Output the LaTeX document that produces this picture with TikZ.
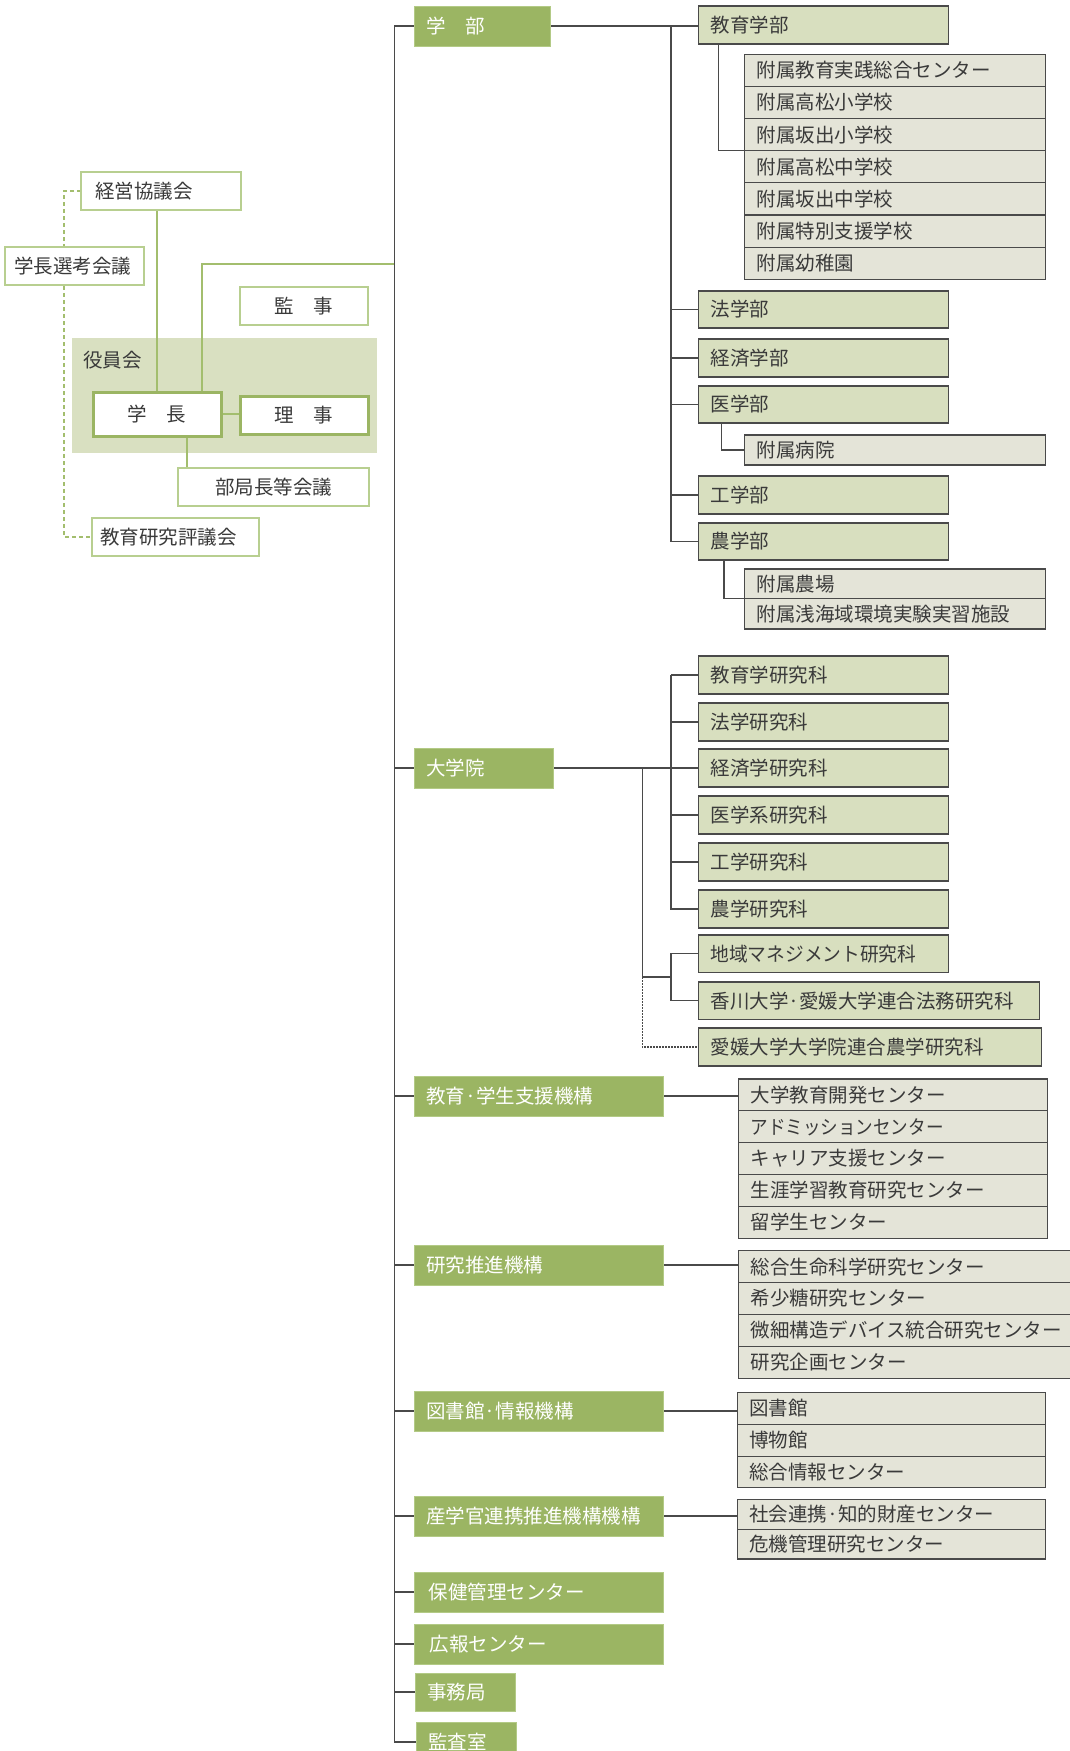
\documentclass[tikz,border=0pt]{standalone}
\usepackage{fontspec}
\usepackage{graphicx}
\newfontfamily\jp{Noto Sans CJK JP}
\usetikzlibrary{backgrounds}
\definecolor{catg}{HTML}{9BB563}
\definecolor{catedge}{HTML}{B3CA86}
\definecolor{lgf}{HTML}{D8DFBF}
\definecolor{gyf}{HTML}{E4E4D8}
\definecolor{dk}{HTML}{4A4A4A}
\definecolor{tx}{HTML}{3A3A3A}
\definecolor{og}{HTML}{B8CF90}
\definecolor{ybg}{HTML}{D9E0C1}
\definecolor{gl}{HTML}{A3BE6E}
% box: style, name, x, y, w, h, align, text
\newcommand\ob[8]{\node[#1,anchor=north west,minimum width=#5pt,minimum height=#6pt] (#2) at (#3,#4) {\makebox[\dimexpr#5pt-24pt\relax][#7]{#8}};}
\begin{document}
\begin{tikzpicture}[x=1pt,y=-1pt,
  base/.style={inner xsep=12pt,inner ysep=0pt,outer sep=0pt,font=\jp\fontsize{19.5}{20}\selectfont},
  gbox/.style={base,fill=catg,draw=catedge,line width=1pt,text=white},
  lbox/.style={base,fill=lgf,draw=dk,line width=1.1pt,text=tx},
  sbox/.style={base,fill=gyf,draw=dk,line width=1.1pt,text=tx},
  obox/.style={base,fill=white,draw=og,line width=1.2pt,text=tx},
  tbox/.style={base,fill=white,draw=catg,line width=3pt,text=tx},
  conn/.style={draw=dk,line width=1.2pt},
  dotconn/.style={draw=dk,line width=1.5pt,dash pattern=on 1.5pt off 1.5pt},
  gconn/.style={draw=gl,line width=1.3pt},
  gdash/.style={draw=gl,line width=1.2pt,dash pattern=on 4pt off 3pt}]
\useasboundingbox (0,0) rectangle (1069,1751);

% ---------- left part ----------
\ob{obox}{keiei}{81}{172}{160}{38}{l}{\hspace*{2pt}経営協議会}
\ob{obox}{senko}{5}{247}{139}{38}{l}{\hspace*{-3pt}学長選考会議}
\ob{obox}{kanji}{240}{287}{128}{38}{c}{監　事}
\ob{tbox}{gakucho}{93}{392}{128}{44}{c}{学　長}
\ob{tbox}{riji}{240}{396}{128}{38}{c}{理　事}
\ob{obox}{bukyoku}{178}{468}{191}{38}{c}{部局長等会議}
\ob{obox}{kyogi}{92}{518}{167}{38}{l}{\hspace*{-4pt}教育研究評議会}

% ---------- faculties ----------
\ob{gbox}{gakubu}{414.3}{6}{136.6}{40}{l}{学　部}
\ob{lbox}{kyoikugakubu}{698.5}{6}{249.6}{38}{l}{教育学部}
\ob{sbox}{fz1}{744.7}{54.3}{301}{32.14}{l}{附属教育実践総合センター}
\ob{sbox}{fz2}{744.7}{86.44}{301}{32.14}{l}{附属高松小学校}
\ob{sbox}{fz3}{744.7}{118.58}{301}{32.14}{l}{附属坂出小学校}
\ob{sbox}{fz4}{744.7}{150.72}{301}{32.14}{l}{附属高松中学校}
\ob{sbox}{fz5}{744.7}{182.86}{301}{32.14}{l}{附属坂出中学校}
\ob{sbox}{fz6}{744.7}{215.0}{301}{32.14}{l}{附属特別支援学校}
\ob{sbox}{fz7}{744.7}{247.14}{301}{32.14}{l}{附属幼稚園}
\ob{lbox}{hogakubu}{698.5}{291}{249.6}{37}{l}{法学部}
\ob{lbox}{keizaigakubu}{698.5}{339}{249.6}{38}{l}{経済学部}
\ob{lbox}{igakubu}{698.5}{386}{249.6}{37}{l}{医学部}
\ob{sbox}{byoin}{744.7}{435}{301}{30}{l}{附属病院}
\ob{lbox}{kogakubu}{698.5}{476}{249.6}{38}{l}{工学部}
\ob{lbox}{nogakubu}{698.5}{523}{249.6}{37}{l}{農学部}
\ob{sbox}{noujo}{744.7}{569}{301}{29.5}{l}{附属農場}
\ob{sbox}{sensui}{744.7}{598.5}{301}{30.5}{l}{附属浅海域環境実験実習施設}

% ---------- graduate school ----------
\ob{gbox}{daigakuin}{414.3}{748}{139.3}{40}{l}{大学院}
\ob{lbox}{g1}{698.5}{656}{249.6}{38}{l}{教育学研究科}
\ob{lbox}{g2}{698.5}{703}{249.6}{38}{l}{法学研究科}
\ob{lbox}{g3}{698.5}{749}{249.6}{38}{l}{経済学研究科}
\ob{lbox}{g4}{698.5}{796}{249.6}{38}{l}{医学系研究科}
\ob{lbox}{g5}{698.5}{843}{249.6}{38}{l}{工学研究科}
\ob{lbox}{g6}{698.5}{890}{249.6}{38}{l}{農学研究科}
\ob{lbox}{chiiki}{698.5}{935}{249.6}{37.5}{l}{\scalebox{0.96}[1]{地域マネジメント研究科}}
\ob{lbox}{kagawa}{698.5}{982}{341}{37.5}{l}{香川大学·愛媛大学連合法務研究科}
\ob{lbox}{ehime}{698.5}{1028}{342.7}{38}{l}{愛媛大学大学院連合農学研究科}

% ---------- organisations ----------
\ob{gbox}{kikou1}{414.3}{1076}{249.5}{40}{l}{教育·学生支援機構}
\ob{sbox}{a1}{738.5}{1079}{309}{31.86}{l}{大学教育開発センター}
\ob{sbox}{a2}{738.5}{1110.86}{309}{31.86}{l}{\scalebox{0.9}[1]{アドミッションセンター}}
\ob{sbox}{a3}{738.5}{1142.72}{309}{31.86}{l}{キャリア支援センター}
\ob{sbox}{a4}{738.5}{1174.58}{309}{31.86}{l}{生涯学習教育研究センター}
\ob{sbox}{a5}{738.5}{1206.44}{309}{31.86}{l}{留学生センター}

\ob{gbox}{kikou2}{414.3}{1245}{249.5}{40}{l}{研究推進機構}
\ob{sbox}{b1}{738.5}{1250.7}{345}{31.9}{l}{総合生命科学研究センター}
\ob{sbox}{b2}{738.5}{1282.6}{345}{31.9}{l}{希少糖研究センター}
\ob{sbox}{b3}{738.5}{1314.5}{345}{31.9}{l}{微細構造デバイス統合研究センター}
\ob{sbox}{b4}{738.5}{1346.4}{345}{31.9}{l}{研究企画センター}

\ob{gbox}{kikou3}{414.3}{1391}{249.5}{40}{l}{図書館·情報機構}
\ob{sbox}{c1}{737.2}{1392.7}{308.4}{31.67}{l}{図書館}
\ob{sbox}{c2}{737.2}{1424.37}{308.4}{31.67}{l}{博物館}
\ob{sbox}{c3}{737.2}{1456.04}{308.4}{31.67}{l}{総合情報センター}

\ob{gbox}{kikou4}{414.3}{1496}{249.5}{40}{l}{産学官連携推進機構機構}
\ob{sbox}{d1}{737.2}{1499.3}{308.4}{30}{l}{社会連携·知的財産センター}
\ob{sbox}{d2}{737.2}{1529.3}{308.4}{29.7}{l}{危機管理研究センター}

\ob{gbox}{hoken}{414.3}{1572}{249.5}{40}{l}{\hspace*{2.5pt}保健管理センター}
\ob{gbox}{koho}{414.3}{1624}{249.5}{40}{l}{\hspace*{3.5pt}広報センター}
\ob{gbox}{jimu}{415}{1673}{100}{38}{l}{事務局}
\ob{gbox}{kansa}{416}{1722}{100}{40}{l}{監査室}

\coordinate (T) at (394.5,0);
\coordinate (TJ) at (394.5,264);
\coordinate (S1) at (671,0);
\coordinate (S2) at (642.3,0);
\coordinate (GJ) at (671,977);
\coordinate (DL) at (64,0);

\begin{pgfonlayer}{background}
  \node[fill=ybg,anchor=north west,minimum width=305pt,minimum height=115pt,inner sep=0pt,outer sep=0pt] (yakuinbg) at (72,338) {};
  \node[font=\jp\fontsize{19.5}{20}\selectfont,text=tx,anchor=west,inner sep=0pt] (yakuinlbl) at (83,360) {役員会};
  % left connectors
  \draw[gdash] (keiei.west) -- (DL |- keiei.west) -- (DL |- kyogi.west) -- (kyogi.west);
  \draw[gconn] (gakucho.north) -- (gakucho.north |- keiei.south);
  \draw[gconn] ([xshift=45pt]gakucho.north) |- (TJ);
  \draw[gconn] (gakucho.east) -- (gakucho.east -| riji.west);
  \draw[gconn,line width=2.5pt] ([xshift=30pt]gakucho.south) -- ([xshift=30pt]gakucho.south |- bukyoku.north);
  % trunk
  \draw[conn] (gakubu.west) -- (T |- gakubu.west) -- (T |- kansa.west) -- (kansa.west);
  \foreach \n in {daigakuin,kikou1,kikou2,kikou3,kikou4,hoken,koho,jimu}
    \draw[conn] (T |- \n.west) -- (\n.west);
  % faculties
  \draw[conn] (gakubu.east) -- (gakubu.east -| kyoikugakubu.west);
  \draw[conn] (S1 |- gakubu.east) |- (nogakubu.west);
  \foreach \n in {hogakubu,keizaigakubu,igakubu,kogakubu}
    \draw[conn] (S1 |- \n.west) -- (\n.west);
  \draw[conn] ([xshift=19.8pt]kyoikugakubu.south west) |- (fz3.south west);
  \draw[conn] ([xshift=23.3pt]igakubu.south west) |- (byoin.west);
  \draw[conn] ([xshift=25.5pt]nogakubu.south west) |- (noujo.south west);
  % graduate school
  \draw[conn] (daigakuin.east) -- (daigakuin.east -| g3.west);
  \draw[conn] (S1 |- g1.west) |- (g6.west);
  \foreach \n in {g1,g2,g4,g5}
    \draw[conn] (S1 |- \n.west) -- (\n.west);
  \draw[conn] (S2 |- daigakuin.east) |- (GJ);
  \draw[conn] (chiiki.west) -| (GJ) |- (kagawa.west);
  \draw[dotconn] (S2 |- GJ) |- (ehime.west);
  % organisations
  \draw[conn] (kikou1.east) -- (kikou1.east -| a1.west);
  \draw[conn] (kikou2.east) -- (kikou2.east -| b1.west);
  \draw[conn] (kikou3.east) -- (kikou3.east -| c1.west);
  \draw[conn] (kikou4.east) -- (kikou4.east -| d1.west);
\end{pgfonlayer}
\end{tikzpicture}
\end{document}
